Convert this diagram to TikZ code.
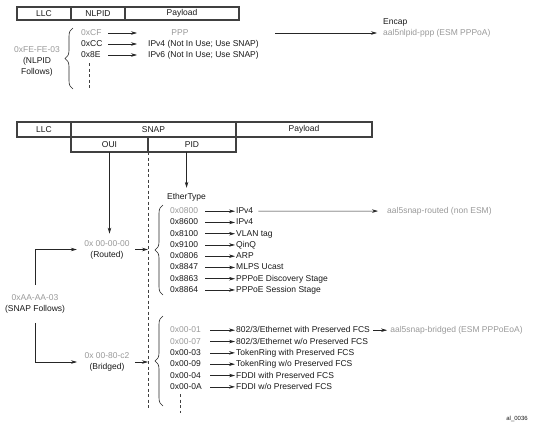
\documentclass[tikz,border=0pt]{standalone}
\usepackage{fontspec}
\setmainfont{Liberation Sans}
\usetikzlibrary{calc,matrix,positioning,arrows.meta,decorations.pathreplacing}
\tikzset{
    every node/.append style={font=\fontsize{8.5}{11}\selectfont, text=black!90},
    field/.style={draw=black!75, line width=1.2pt, minimum height=13pt, inner sep=0pt, outer sep=0pt},
    lbl/.style={inner sep=1pt, anchor=west, text height=6.5pt, text depth=1.5pt},
    arr/.style={-{Stealth[length=6pt,width=3.5pt]}, black!85, line width=0.6pt},
    vdash/.style={black!75, line width=0.6pt, dash pattern=on 3pt off 2.5pt},
    brc/.style={decorate, decoration={brace, amplitude=8pt}, black!85, line width=0.6pt}}
\newcommand{\gr}[1]{\textcolor{black!40}{#1}}

\begin{document}
\begin{tikzpicture}[x=1pt,y=-1pt]
    \useasboundingbox (0,0) rectangle (534,429);

    % NLPID header
    \node[field, minimum width=54pt, anchor=north west] (llcA) at (17,7) {LLC};
    \node[field, minimum width=54pt, right=0pt of llcA] (nlpid) {NLPID};
    \node[field, minimum width=114pt, right=0pt of nlpid] (payA) {Payload};

    \node[align=center] (nlpidf) at (37,61) {\gr{0xFE-FE-03}\\(NLPID\\Follows)};
    \draw[brc] (73,89) -- (73,28);

    \node[lbl, text width=26pt] (xcf) at (80,33) {\gr{0xCF}};
    \node[lbl, text width=26pt] (xcc) at (80,44) {0xCC};
    \node[lbl, text width=26pt] (x8e) at (80,55) {0x8E};
    \node[lbl, anchor=center] (ppp) at (180,33) {\gr{PPP}};
    \node[lbl] (ipvA) at (147,44) {IPv4 (Not In Use; Use SNAP)};
    \node[lbl] (ipvB) at (147,55) {IPv6 (Not In Use; Use SNAP)};
    \path[arr, shorten >=10pt]
    (xcf) edge (xcf -| ipvA.west)
    (xcc) edge (ipvA)
    (x8e) edge (ipvB);
    \draw[vdash] ($(x8e.south west)+(9,3)$) -- ++(0,27);

    \node[lbl] (encap) at (382,22) {Encap};
    \node[lbl] (nlppp) at (382,33) {\gr{aal5nlpid-ppp (ESM PPPoA)}};
    \coordinate (pppout) at (275,33);
    \draw[arr, shorten >=5pt] (pppout) -- (nlppp);

    % SNAP header
    \node[field, minimum width=54pt, minimum height=15pt, anchor=north west] (llcB) at (17,122) {LLC};
    \node[field, minimum width=165pt, minimum height=15pt, right=0pt of llcB] (snap) {SNAP};
    \node[field, minimum width=136pt, minimum height=15pt, right=0pt of snap] (payB) {Payload};
    \node[field, minimum width=77pt, minimum height=15pt, anchor=north west] (oui) at (snap.south west) {OUI};
    \node[field, minimum width=88pt, minimum height=15pt, right=0pt of oui] (pid) {PID};

    \node[align=center] (snapf) at (35,304) {\gr{0xAA-AA-03}\\(SNAP Follows)};
    \node[align=center] (routed) at (107,249.5) {\gr{0x 00-00-00}\\(Routed)};
    \node[align=center] (bridged) at (107,362) {\gr{0x 00-80-c2}\\(Bridged)};
    \node[lbl] (ethtype) at (166,197) {EtherType};

    \draw[vdash] (oui.south east) -- ++(0,258);
    \draw[arr, shorten >=3pt] (oui.south) -- (oui.south |- routed.north);
    \draw[arr, shorten >=4pt] (ethtype.north |- pid.south) -- (ethtype.north);
    \draw[arr, shorten <=6pt, shorten >=4pt] (snapf.north) |- (routed.west);
    \draw[arr, shorten <=6pt, shorten >=4pt] (snapf.south) |- (bridged.west);
    \draw[arr, shorten <=2pt] (routed.east) -- (routed.east -| oui.south east);
    \draw[arr, shorten <=2pt] (bridged.east) -- (bridged.east -| oui.south east);

    \draw[brc] (163,295) -- (163,205);
    \draw[brc] (163,406) -- (163,316);

    \matrix (eth) [matrix of nodes, anchor=north west, inner sep=0pt, row sep=1.25pt, column sep=30pt,
        nodes={lbl}, column 1/.style={nodes={text width=34pt}}] at (169,206)
    {
        \gr{0x0800} & IPv4 \\
        0x8600 & IPv4 \\
        0x8100 & VLAN tag \\
        0x9100 & QinQ \\
        0x0806 & ARP \\
        0x8847 & MLPS Ucast \\
        0x8863 & PPPoE Discovery Stage \\
        0x8864 & PPPoE Session Stage \\};

    \path[arr]
    (eth-1-1) edge (eth-1-2)
    (eth-2-1) edge (eth-2-2)
    (eth-3-1) edge (eth-3-2)
    (eth-4-1) edge (eth-4-2)
    (eth-5-1) edge (eth-5-2)
    (eth-6-1) edge (eth-6-2)
    (eth-7-1) edge (eth-7-2)
    (eth-8-1) edge (eth-8-2);

    \node[lbl] (routenc) at (386,211) {\gr{aal5snap-routed (non ESM)}};
    \draw[arr, shorten <=4pt, shorten >=8pt] (eth-1-2) -- (routenc);

    \matrix (brg) [matrix of nodes, anchor=north west, inner sep=0pt, row sep=1.33pt, column sep=25pt,
        nodes={lbl}, column 1/.style={nodes={text width=39pt}}] at (169,325)
    {
        \gr{0x00-01} & 802/3/Ethernet with Preserved FCS \\
        \gr{0x00-07} & 802/3/Ethernet w/o Preserved FCS \\
        0x00-03 & TokenRing with Preserved FCS \\
        0x00-09 & TokenRing w/o Preserved FCS \\
        0x00-04 & FDDI with Preserved FCS \\
        0x00-0A & FDDI w/o Preserved FCS \\};

    \path[arr]
    (brg-1-1) edge (brg-1-2)
    (brg-2-1) edge (brg-2-2)
    (brg-3-1) edge (brg-3-2)
    (brg-4-1) edge (brg-4-2)
    (brg-5-1) edge (brg-5-2)
    (brg-6-1) edge (brg-6-2);
    \draw[vdash] ($(brg-6-1.south west)+(11,2)$) -- ++(0,19);

    \node[lbl, right=18pt of brg-1-2] (brgenc) {\gr{aal5snap-bridged (ESM PPPoEoA)}};
    \draw[arr, shorten <=2pt, shorten >=2pt] (brg-1-2) -- (brgenc);

    \node[font=\fontsize{6}{7}\selectfont] (figid) at (517,419) {al\_0036};
\end{tikzpicture}
\end{document}
